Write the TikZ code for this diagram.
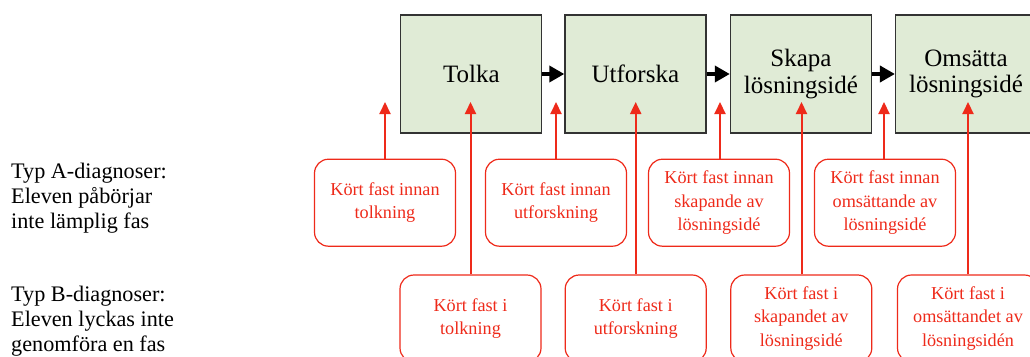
\documentclass[tikz,border=0pt]{standalone}
\usepackage{fontspec}
\setmainfont{Liberation Serif}
\usetikzlibrary{arrows.meta}
\definecolor{boxgreen}{RGB}{224,235,214}
\definecolor{diagred}{RGB}{238,42,26}
\begin{document}
\begin{tikzpicture}[x=1pt,y=-1pt,
  phase/.style={draw=black!80,line width=1.2pt,fill=boxgreen,minimum width=141pt,minimum height=118pt,inner sep=0pt,align=center,font=\fontsize{25}{26.5}\selectfont},
  diag/.style={draw=diagred,line width=1.2pt,rounded corners=14pt,minimum width=141pt,minimum height=87pt,inner sep=0pt,align=center,text=diagred,font=\fontsize{18.2}{23.5}\selectfont},
  flow/.style={line width=4pt,-{Triangle[length=15pt,width=16pt]}},
  up/.style={draw=diagred,line width=2pt,-{Triangle[length=12pt,width=11pt]}},
  sidetext/.style={anchor=north west,align=left,inner sep=0pt,font=\fontsize{22.2}{25}\selectfont}]
\useasboundingbox (0,0) rectangle (1030,356);
\clip (0,0) rectangle (1030,356);

% phases
\node[phase] (tolka) at (471.3,74) {Tolka};
\node[phase] (utf) at (635.4,74) {Utforska};
\node[phase] (skapa) at (800.9,74) {Skapa\\lösningsidé};
\node[phase] (oms) at (966,74) {Omsätta\\lösningsidé};

\draw[flow] (tolka) -- (utf);
\draw[flow] (utf) -- (skapa);
\draw[flow] (skapa) -- (oms);

% side texts
\node[sidetext] (ta) at (11,163) {Typ A-diagnoser:\\Eleven påbörjar\\inte lämplig fas};
\node[sidetext] (tb) at (11,286) {Typ B-diagnoser:\\Eleven lyckas inte\\genomföra en fas};

% type A
\node[diag] (a1) at (385,202.7) {Kört fast innan\\tolkning};
\node[diag] (a2) at (556,202.7) {Kört fast innan\\utforskning};
\node[diag] (a3) at (719,202.7) {Kört fast innan\\skapande av\\lösningsidé};
\node[diag] (a4) at (885,202.7) {Kört fast innan\\omsättande av\\lösningsidé};

% type B
\node[diag] (b1) at (470.5,318.5) {Kört fast i\\tolkning};
\node[diag] (b2) at (635.7,318.5) {Kört fast i\\utforskning};
\node[diag] (b3) at (801.3,318.5) {Kört fast i\\skapandet av\\lösningsidé};
\node[diag] (b4) at (968,318.5) {Kört fast i\\omsättandet av\\lösningsidén};

% arrow tips
\coordinate (pa1) at (385,102);
\coordinate (pa2) at (556,102);
\coordinate (pa3) at (720,102);
\coordinate (pa4) at (884,102);
\coordinate (pb1) at (470.5,102);
\coordinate (pb2) at (635.7,102);
\coordinate (pb3) at (801.5,102);
\coordinate (pb4) at (968,102);

\draw[up] (a1.north) -- (pa1);
\draw[up] (a2.north) -- (pa2);
\draw[up] (a3.north -| pa3) -- (pa3);
\draw[up] (a4.north -| pa4) -- (pa4);
\draw[up] (b1.north) -- (pb1);
\draw[up] (b2.north) -- (pb2);
\draw[up] (b3.north -| pb3) -- (pb3);
\draw[up] (b4.north) -- (pb4);
\end{tikzpicture}
\end{document}
